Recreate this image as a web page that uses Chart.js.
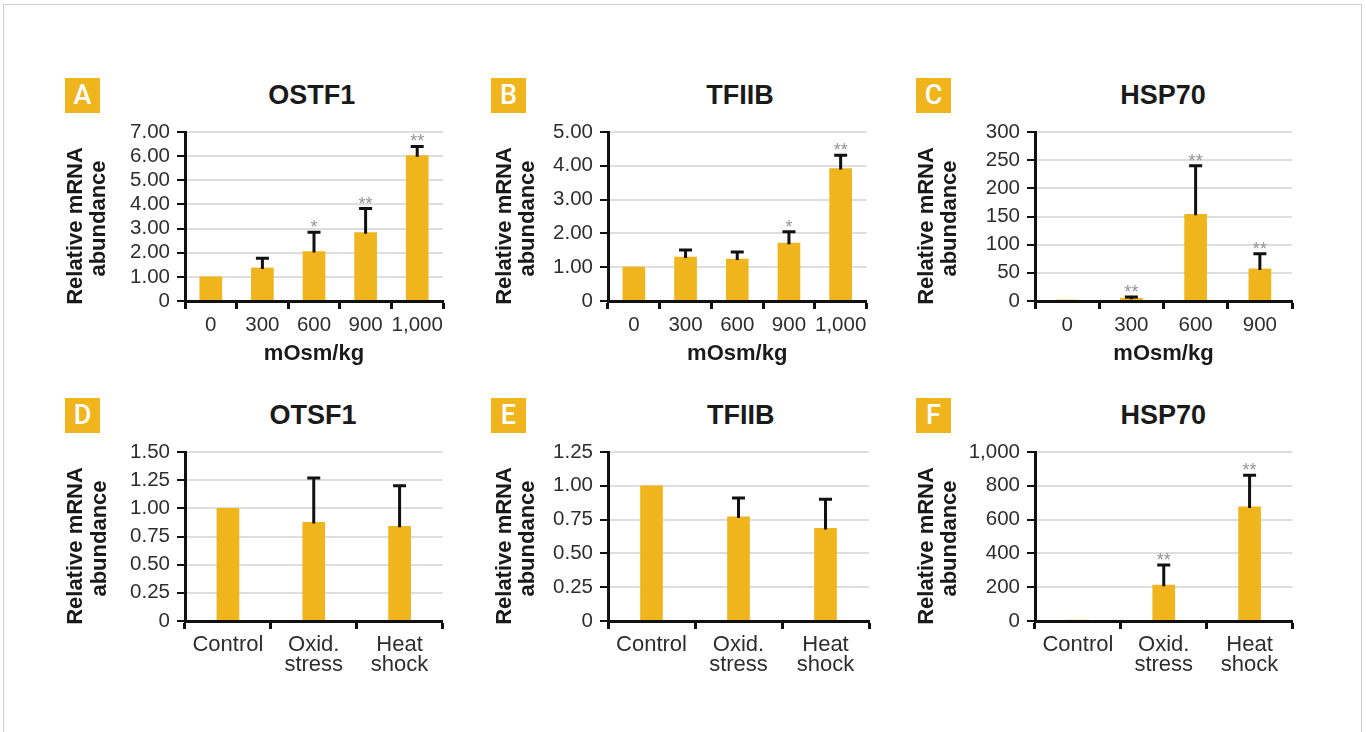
<!DOCTYPE html>
<html>
<head>
<meta charset="utf-8">
<script src="https://cdn.jsdelivr.net/npm/chart.js@4.4.1/dist/chart.umd.min.js"></script>
<style>
  html, body { margin: 0; padding: 0; background: #fff; }
  #page { position: relative; width: 1366px; height: 732px; overflow: hidden; background: #fff; }
  #frame { position: absolute; left: 3px; top: 4px; width: 1359px; height: 760px; border: 1px solid #cfcfcf; box-sizing: border-box; }
  .panel { position: absolute; width: 390px; height: 250px; }
  .badge { position: absolute; width: 35px; height: 35px; background: #F0B41C; color: #fff;
           font: 500 27px Roboto, "Liberation Sans", sans-serif; line-height: 35px; text-align: center; }
  .ptitle { position: absolute; width: 200px; text-align: center; color: #1a1a1a;
            font: bold 27px "Liberation Sans", Arial, sans-serif; line-height: 30px; }
</style>
</head>
<body>
<div id="page">
  <div id="frame"></div>
</div>
<script>
// ---------- data ----------
const osmCats5 = ['0', '300', '600', '900', '1,000'];
const osmCats4 = ['0', '300', '600', '900'];
const stressCats = ['Control', ['Oxid.', 'stress'], ['Heat', 'shock']];

const ostf1Osm      = [1.00, 1.37, 2.05, 2.83, 6.02];
const ostf1OsmErr   = [0, 0.40, 0.80, 1.00, 0.38];
const ostf1OsmStars = ['', '', '*', '**', '**'];

const tfiibOsm      = [1.00, 1.30, 1.24, 1.71, 3.92];
const tfiibOsmErr   = [0, 0.21, 0.21, 0.34, 0.39];
const tfiibOsmStars = ['', '', '', '*', '**'];

const hsp70Osm      = [1, 5, 154, 57];
const hsp70OsmErr   = [0, 2, 86, 27];
const hsp70OsmStars = ['', '**', '**', '**'];

const ostf1Stress      = [1.00, 0.875, 0.84];
const ostf1StressErr   = [0, 0.395, 0.36];
const ostf1StressStars = ['', '', ''];

const tfiibStress      = [1.00, 0.77, 0.685];
const tfiibStressErr   = [0, 0.14, 0.215];
const tfiibStressStars = ['', '', ''];

const hsp70Stress      = [1, 212, 675];
const hsp70StressErr   = [0, 120, 188];
const hsp70StressStars = ['', '**', '**'];

const yTicksA = ['0', '1.00', '2.00', '3.00', '4.00', '5.00', '6.00', '7.00'];
const yTicksB = ['0', '1.00', '2.00', '3.00', '4.00', '5.00'];
const yTicksC = ['0', '50', '100', '150', '200', '250', '300'];
const yTicksD = ['0', '0.25', '0.50', '0.75', '1.00', '1.25', '1.50'];
const yTicksE = ['0', '0.25', '0.50', '0.75', '1.00', '1.25'];
const yTicksF = ['0', '200', '400', '600', '800', '1,000'];

const panelLetters = ['A', 'B', 'C', 'D', 'E', 'F'];
const panelTitles  = ['OSTF1', 'TFIIB', 'HSP70', 'OTSF1', 'TFIIB', 'HSP70'];
const yAxisTitle = ['Relative mRNA', 'abundance'];
const xAxisTitle = 'mOsm/kg';

// ---------- styling / layout ----------
const BAR = '#F0B41C';
const FONT = '"Liberation Sans", Arial, sans-serif';

const panels = [
  { cats: osmCats5, vals: ostf1Osm, errs: ostf1OsmErr, stars: ostf1OsmStars, yt: yTicksA, max: 7, step: 1,
    left: 60, top: 120, padR: 7, yto: 109.5, xt: true, xfs: 20.5, xlh: 1.0, badge: [65, 78], tc: [311.7, 95] },
  { cats: osmCats5, vals: tfiibOsm, errs: tfiibOsmErr, stars: tfiibOsmStars, yt: yTicksB, max: 5, step: 1,
    left: 483, top: 120, padR: 6.5, yto: 103.5, xt: true, xfs: 20.5, xlh: 1.0, badge: [491, 78], tc: [740, 95] },
  { cats: osmCats4, vals: hsp70Osm, errs: hsp70OsmErr, stars: hsp70OsmStars, yt: yTicksC, max: 300, step: 50,
    left: 910, top: 120, padR: 8, yto: 108.5, xt: true, xfs: 20.5, xlh: 1.0, badge: [916, 78], tc: [1163, 95] },
  { cats: stressCats, vals: ostf1Stress, errs: ostf1StressErr, stars: ostf1StressStars, yt: yTicksD, max: 1.5, step: 0.25,
    left: 60, top: 440, padR: 7.5, yto: 109, xt: false, xfs: 22, xlh: 0.92, badge: [65, 398], tc: [313, 415] },
  { cats: stressCats, vals: tfiibStress, errs: tfiibStressErr, stars: tfiibStressStars, yt: yTicksE, max: 1.25, step: 0.25,
    left: 483, top: 440, padR: 4, yto: 103.5, xt: false, xfs: 22, xlh: 0.92, badge: [491, 398], tc: [740.8, 415] },
  { cats: stressCats, vals: hsp70Stress, errs: hsp70StressErr, stars: hsp70StressStars, yt: yTicksF, max: 1000, step: 200,
    left: 910, top: 440, padR: 7.5, yto: 108.5, xt: false, xfs: 22, xlh: 0.92, badge: [916, 398], tc: [1163.3, 415] }
];

const errorBarPlugin = {
  id: 'errorBars',
  afterDatasetsDraw(chart) {
    const ds = chart.data.datasets[0];
    const meta = chart.getDatasetMeta(0);
    const ys = chart.scales.y;
    const ctx = chart.ctx;
    ctx.save();
    meta.data.forEach((bar, i) => {
      const err = ds.errs[i];
      let topY = bar.y;
      if (err > 0) {
        topY = ys.getPixelForValue(ds.data[i] + err);
        ctx.strokeStyle = '#111';
        ctx.lineWidth = 3;
        ctx.beginPath();
        ctx.moveTo(bar.x, bar.y + 1);
        ctx.lineTo(bar.x, topY);
        ctx.moveTo(bar.x - 6.5, topY);
        ctx.lineTo(bar.x + 6.5, topY);
        ctx.stroke();
      }
      const s = ds.stars[i];
      if (s) {
        ctx.fillStyle = '#949494';
        ctx.font = '18px ' + FONT;
        ctx.textAlign = 'center';
        ctx.textBaseline = 'alphabetic';
        ctx.fillText(s, bar.x, topY + 1);
      }
    });
    ctx.restore();
  }
};

// y-axis title (two lines, rotated), placed relative to the chart area
const yTitlePlugin = {
  id: 'yTitle',
  afterDraw(chart, args, opts) {
    const ctx = chart.ctx;
    const a = chart.chartArea;
    ctx.save();
    ctx.fillStyle = '#1a1a1a';
    ctx.font = 'bold 22px ' + FONT;
    ctx.textAlign = 'center';
    ctx.textBaseline = 'middle';
    const lines = opts.text;
    const cx = [a.left - opts.offset, a.left - opts.offset + 23.5];
    const cy = [a.bottom - 75, a.bottom - 82.5];
    lines.forEach((ln, i) => {
      ctx.save();
      ctx.translate(cx[i], cy[i]);
      ctx.rotate(-Math.PI / 2);
      ctx.fillText(ln, 0, 0);
      ctx.restore();
    });
    ctx.restore();
  }
};

const page = document.getElementById('page');

panels.forEach((p, k) => {
  const b = document.createElement('div');
  b.className = 'badge';
  b.style.left = p.badge[0] + 'px';
  b.style.top = p.badge[1] + 'px';
  b.textContent = panelLetters[k];
  page.appendChild(b);

  const t = document.createElement('div');
  t.className = 'ptitle';
  t.style.left = (p.tc[0] - 100) + 'px';
  t.style.top = (p.tc[1] - 15) + 'px';
  t.textContent = panelTitles[k];
  page.appendChild(t);

  const wrap = document.createElement('div');
  wrap.className = 'panel';
  wrap.style.left = p.left + 'px';
  wrap.style.top = p.top + 'px';
  const cv = document.createElement('canvas');
  cv.width = 390; cv.height = 250;
  cv.style.width = '390px'; cv.style.height = '250px';
  wrap.appendChild(cv);
  page.appendChild(wrap);

  new Chart(cv.getContext('2d'), {
    type: 'bar',
    data: {
      labels: p.cats,
      datasets: [{
        data: p.vals,
        errs: p.errs,
        stars: p.stars,
        backgroundColor: BAR,
        borderWidth: 0,
        barThickness: 22
      }]
    },
    options: {
      responsive: false,
      animation: false,
      devicePixelRatio: 1,
      layout: { padding: { top: 12, right: p.padR, left: 0, bottom: 0 } },
      plugins: {
        legend: { display: false }, tooltip: { enabled: false }, title: { display: false },
        yTitle: { text: yAxisTitle, offset: p.yto }
      },
      scales: {
        x: {
          offset: true,
          grid: { offset: true, drawOnChartArea: false, drawTicks: true, tickLength: 8, tickColor: '#111', tickWidth: 3 },
          border: { display: true, color: '#111', width: 3, z: 1 },
          ticks: { color: '#2e2e2e', font: { family: FONT, size: p.xfs, lineHeight: p.xlh }, padding: 6,
                   maxRotation: 0, minRotation: 0, autoSkip: false },
          title: { display: p.xt, text: xAxisTitle, color: '#1a1a1a',
                   font: { family: FONT, size: 22, weight: 'bold', lineHeight: 1.1 }, padding: { top: 0, bottom: 4 } },
          afterFit: s => { s.height = 69; }
        },
        y: {
          min: 0, max: p.max,
          grid: { color: '#dedede', lineWidth: 2, drawTicks: true, tickLength: 8, tickColor: '#111', tickWidth: 2 },
          border: { display: true, color: '#111', width: 3, z: 1 },
          ticks: { stepSize: p.step, autoSkip: false, color: '#2e2e2e', font: { family: FONT, size: 20.5, lineHeight: 0.45 }, padding: 7,
                   callback: (v, i) => p.yt[i] },
          title: { display: false },
          afterFit: s => { s.width = 125; }
        }
      }
    },
    plugins: [errorBarPlugin, yTitlePlugin]
  });
});
</script>
</body>
</html>
